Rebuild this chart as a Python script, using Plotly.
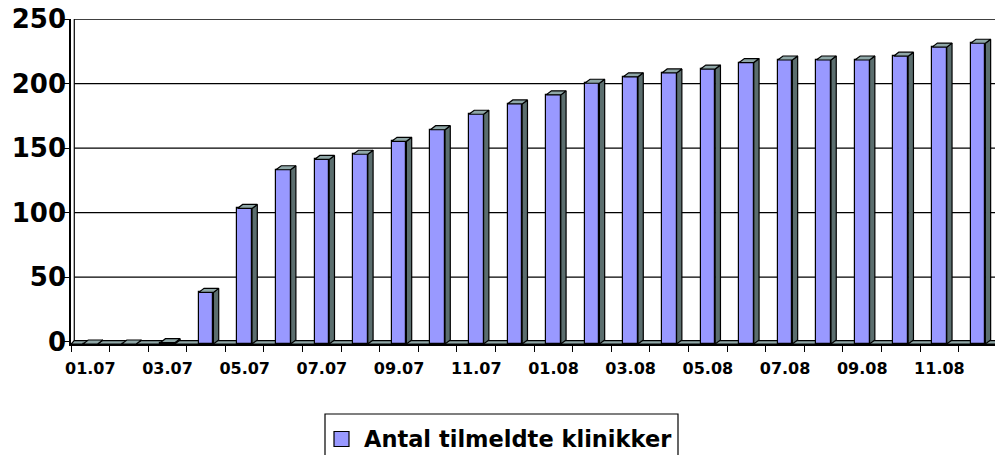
import plotly.graph_objects as go

# Monthly count of registered clinics, Jan 2007 - Dec 2008
months = ["01.07", "02.07", "03.07", "04.07", "05.07", "06.07", "07.07", "08.07",
          "09.07", "10.07", "11.07", "12.07", "01.08", "02.08", "03.08", "04.08",
          "05.08", "06.08", "07.08", "08.08", "09.08", "10.08", "11.08", "12.08"]
clinics = [0, 0, 1, 40, 105, 135, 143, 147, 157, 166, 178, 186,
           193, 202, 207, 210, 213, 218, 220, 220, 220, 223, 230, 233]
y_ticks = [0, 50, 100, 150, 200, 250]
series_name = "Antal tilmeldte klinikker"

FRONT = "#9999FF"
TOP = "#8FA7A7"
SIDE = "#5B6E6E"

# pseudo-3D geometry (axis units)
bar_w = 0.38      # width of the front face
depth_x = 0.137   # horizontal depth offset
depth_y = 3.1     # vertical depth offset
drop = 1.78       # front faces sit slightly below the back wall baseline
wall_x = 0.085    # back wall offset from the front edge
floor_y = 0.9     # back edge of the floor slab

x = list(range(len(months)))
x_lo, x_hi = -0.5, 23.44

top_x, top_y, side_x, side_y = [], [], [], []
for i, v in zip(x, clinics):
    x0, x1 = i - bar_w / 2, i + bar_w / 2
    yt = v - drop
    top_x += [x0, x1, x1 + depth_x, x0 + depth_x, x0, None]
    top_y += [yt, yt, yt + depth_y, yt + depth_y, yt, None]
    side_x += [x1, x1, x1 + depth_x, x1 + depth_x, x1, None]
    side_y += [-drop, yt, yt + depth_y, -drop + depth_y, -drop, None]

fig = go.Figure()

fig.add_trace(go.Bar(
    x=x, y=clinics, base=-drop, width=bar_w, name=series_name,
    marker=dict(color=FRONT, line=dict(color="black", width=1.2)),
    showlegend=False, hoverinfo="skip",
))
fig.add_trace(go.Scatter(
    x=side_x, y=side_y, mode="lines", fill="toself", fillcolor=SIDE,
    line=dict(color="black", width=1.2), showlegend=False, hoverinfo="skip",
))
fig.add_trace(go.Scatter(
    x=top_x, y=top_y, mode="lines", fill="toself", fillcolor=TOP,
    line=dict(color="black", width=1.2), showlegend=False, hoverinfo="skip",
))

shapes = []
# gridlines on the back wall
for t in y_ticks:
    shapes.append(dict(type="line", xref="x", yref="y", x0=x_lo + wall_x, x1=x_hi + 1,
                       y0=t, y1=t, line=dict(color="black", width=1.3), layer="below"))
# back edge of the left wall
shapes.append(dict(type="line", xref="x", yref="y", x0=x_lo + wall_x, x1=x_lo + wall_x,
                   y0=0, y1=250, line=dict(color="black", width=1.2), layer="below"))
# thin floor slab under the columns
shapes.append(dict(
    type="path", xref="x", yref="y", layer="below",
    path=(f"M {x_lo},{-drop} L {x_hi + 1},{-drop} L {x_hi + 1},{floor_y} "
          f"L {x_lo + wall_x},{floor_y} Z"),
    fillcolor=TOP, line=dict(color="black", width=1.2),
))

# legend drawn as a framed box
shapes.append(dict(type="rect", xref="paper", yref="paper",
                   x0=(325 - 71) / 924, x1=(678 - 71) / 924,
                   y0=(344 - 470) / 325, y1=(344 - 414) / 325,
                   line=dict(color="black", width=1.2), fillcolor="white"))
shapes.append(dict(type="rect", xref="paper", yref="paper",
                   x0=(334 - 71) / 924, x1=(349 - 71) / 924,
                   y0=(344 - 446.5) / 325, y1=(344 - 431.5) / 325,
                   line=dict(color="black", width=1.2), fillcolor=FRONT))

fig.add_annotation(
    xref="paper", yref="paper", x=(362 - 71) / 924, y=(344 - 439) / 325,
    xanchor="left", yanchor="middle", showarrow=False, text=series_name,
    font=dict(family="DejaVu Sans", size=22.5, color="black", weight="bold"),
)

fig.update_layout(
    width=995, height=455,
    margin=dict(l=71, r=0, t=19, b=111),
    paper_bgcolor="white", plot_bgcolor="white",
    shapes=shapes, bargap=0,
    showlegend=False,
)
fig.update_xaxes(
    range=[x_lo, x_hi],
    tickmode="array", tickvals=x[::2], ticktext=months[::2],
    ticks="", showgrid=False, zeroline=False,
    showline=True, linecolor="black", linewidth=1.5,
    tickfont=dict(family="DejaVu Sans", size=16, color="black", weight="bold"),
    ticklabelstandoff=9,
    minor=dict(tickmode="linear", tick0=-0.5, dtick=1, ticks="outside",
               ticklen=6, tickcolor="black", tickwidth=1.3, showgrid=False),
)
fig.update_yaxes(
    range=[-drop, 250],
    tickmode="array", tickvals=y_ticks, ticks="",
    showgrid=False, zeroline=False,
    showline=True, linecolor="black", linewidth=1.5,
    tickfont=dict(family="DejaVu Sans", size=26, color="black", weight="bold"),
    ticklabelstandoff=-2,
    minor=dict(tickmode="array", tickvals=y_ticks, ticks="outside",
               ticklen=5, tickcolor="black", tickwidth=1.3, showgrid=False),
)

fig.write_html("out.html")
